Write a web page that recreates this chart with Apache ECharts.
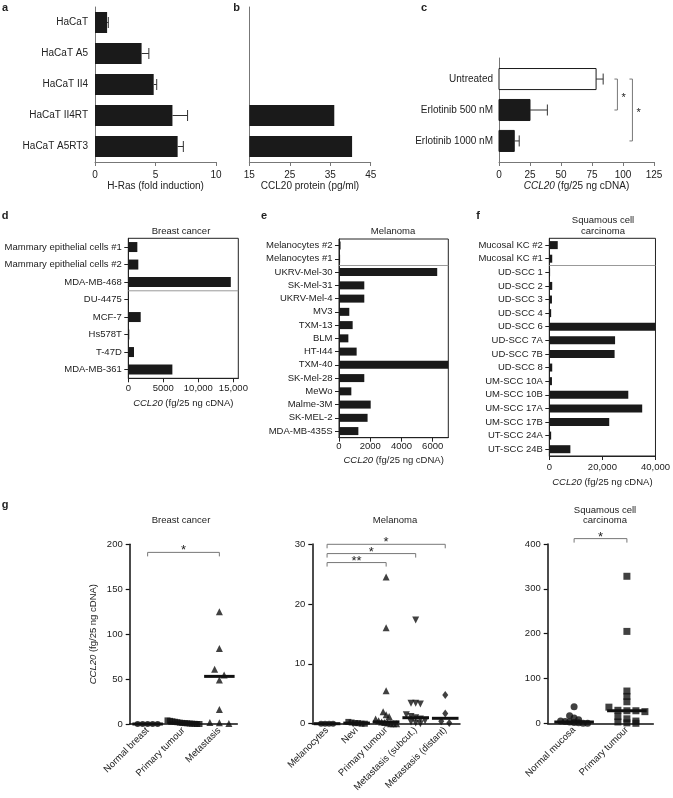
<!DOCTYPE html>
<html>
<head>
<meta charset="utf-8">
<script src="https://cdn.jsdelivr.net/npm/echarts/dist/echarts.min.js"></script>
<style>
html,body{margin:0;padding:0;background:#fff;}
#chart{width:673px;height:798px;}
</style>
</head>
<body>
<div id="chart"></div>
<script>
// ---------------- data ----------------
const aCats = ['HaCaT', 'HaCaT A5', 'HaCaT II4', 'HaCaT II4RT', 'HaCaT A5RT3'];
const aRas = [1.0, 3.85, 4.85, 6.4, 6.83];
const aRasErr = [0.1, 0.6, 0.25, 1.25, 0.47];
const bProtein = [null, null, null, 36.0, 40.4];
const cCats = ['Untreated', 'Erlotinib 500 nM', 'Erlotinib 1000 nM'];
const cVals = [78.3, 25, 12.3];
const cErr = [5.7, 14, 4];
const cStars = ['*', '*'];

const dCats = ['Mammary epithelial cells #1', 'Mammary epithelial cells #2', 'MDA-MB-468', 'DU-4475', 'MCF-7', 'Hs578T', 'T-47D', 'MDA-MB-361'];
const dVals = [1290, 1430, 14630, 100, 1770, 140, 810, 6290];
const eCats = ['Melanocytes #2', 'Melanocytes #1', 'UKRV-Mel-30', 'SK-Mel-31', 'UKRV-Mel-4', 'MV3', 'TXM-13', 'BLM', 'HT-I44', 'TXM-40', 'SK-Mel-28', 'MeWo', 'Malme-3M', 'SK-MEL-2', 'MDA-MB-435S'];
const eVals = [100, 70, 6290, 1620, 1620, 660, 875, 600, 1130, 7000, 1620, 790, 2030, 1830, 1240];
const fCats = ['Mucosal KC #2', 'Mucosal KC #1', 'UD-SCC 1', 'UD-SCC 2', 'UD-SCC 3', 'UD-SCC 4', 'UD-SCC 6', 'UD-SCC 7A', 'UD-SCC 7B', 'UD-SCC 8', 'UM-SCC 10A', 'UM-SCC 10B', 'UM-SCC 17A', 'UM-SCC 17B', 'UT-SCC 24A', 'UT-SCC 24B'];
const fVals = [3180, 1100, 300, 1100, 1000, 700, 40000, 24780, 24600, 1100, 1000, 29760, 35000, 22580, 700, 7940];

const g1Cats = ['Normal breast', 'Primary tumour', 'Metastasis'];
const g1Normal = [0, 0, 0, 0, 0];
const g1Primary = [0.5, 1, 0, 2, 0.3, 3, 1.5, 0, 2.5, 0.8, 4, 0.2, 1.2, 3.5];
const g1Meta = [125, 84, 61, 54.5, 49, 16, 1.8, 1.5, 0.5];
const g1Medians = [0, 1, 53];
const g1Brackets = [[0, 191, 2]];
const g1Stars = ['*'];

const g2Cats = ['Melanocytes', 'Nevi', 'Primary tumour', 'Metastasis (subcut.)', 'Metastasis (distant)'];
const g2Melano = [0, 0, 0, 0];
const g2Nevi = [0.3, 0.2, 0.1, 0.1, 0, 0];
const g2Primary = [24.5, 16, 5.5, 2, 1.5, 1.2, 0.8, 0.5, 0.3, 0.2, 0.1, 0, 0, 0];
const g2Subcut = [17.3, 3.4, 3.4, 3.3, 1.5, 1.2, 1.0, 0.8, 0.5, 0.3, 0.1, 0];
const g2Distant = [4.8, 1.7, 0.4, 0.1];
const g2Medians = [0, 0.1, 0.3, 1.0, 0.9];
const g2Brackets = [[0, 26.9, 2], [0, 28.4, 3], [0, 29.95, 4]];
const g2Stars = ['**', '*', '*'];

const g3Cats = ['Normal mucosa', 'Primary tumour'];
const g3Normal = [37, 17, 12, 8, 5, 4, 3, 2, 1, 0, 0];
const g3Primary = [328, 205, 72, 60, 48, 36, 29, 28, 28, 26, 15, 10, 5, 3, 1, 0];
const g3Medians = [3, 28];
const g3Brackets = [[0, 412, 1]];
const g3Stars = ['*'];

// ---------------- helpers ----------------
const FONT = '"Liberation Sans", Arial, Helvetica, sans-serif';
const TXT = '#222';
const BLK = '#1a1a1a';

function comma(v) {
  return v >= 10000 ? String(v).replace(/\B(?=(\d{3})+(?!\d))/g, ',') : String(v);
}
function nameStyle(size) {
  return { fontSize: size, color: TXT, fontFamily: FONT,
    rich: { i: { fontStyle: 'italic', fontSize: size, color: TXT, fontFamily: FONT } } };
}
const CCL20 = '{i|CCL20} (fg/25 ng cDNA)';

// beeswarm-like row layout: points close in value are spread symmetrically
function swarm(vals, pxPerUnit, binPx, step, maxW) {
  const order = vals.map((v, i) => i).sort((a, b) => vals[b] - vals[a]);
  const off = new Array(vals.length).fill(0);
  let g = [];
  const flush = () => {
    const k = g.length;
    const s = k > 1 ? Math.min(step, maxW / (k - 1)) : 0;
    g.forEach((id, j) => { off[id] = (j - (k - 1) / 2) * s; });
    g = [];
  };
  order.forEach(id => {
    if (g.length && (vals[g[0]] - vals[id]) * pxPerUnit >= binPx) flush();
    g.push(id);
  });
  flush();
  return off;
}

function txt(x, y, text, size, bold, align) {
  const al = align || 'center';
  return { type: 'text', x: x, y: y, silent: true,
    style: { text: text, fontSize: size, fontWeight: bold ? 'bold' : 'normal', fontFamily: FONT, fill: TXT,
      align: al, verticalAlign: 'middle', textAlign: al, textVerticalAlign: 'middle' } };
}

// ---------------- layout ----------------
const boxed = { show: true, borderColor: '#222', borderWidth: 1, backgroundColor: 'transparent' };
const GRIDS = [
  { left: 95, top: 7, width: 121, height: 155 },                 // a
  { left: 249.3, top: 7, width: 121.4, height: 155 },            // b
  { left: 499, top: 58, width: 155, height: 104 },               // c
  Object.assign({ left: 128.3, top: 238.3, width: 110, height: 140 }, boxed),     // d
  Object.assign({ left: 339, top: 239, width: 109.3, height: 198.7 }, boxed),     // e
  Object.assign({ left: 549.3, top: 238.3, width: 109.4, height: 217.7 }, boxed), // f
  { left: 129.7, top: 544.3, width: 107.6, height: 179.7 },      // g1
  { left: 312.3, top: 544, width: 147.7, height: 179.7 },        // g2
  { left: 547.7, top: 544, width: 105.6, height: 179.3 }         // g3
];

function valX(gi, min, max, interval, name, o) {
  return {
    gridIndex: gi, type: 'value', min: min, max: max, interval: interval,
    axisLine: { show: true, onZero: false, lineStyle: { color: o.line, width: 1 } },
    axisTick: { show: true, length: 4, lineStyle: { color: o.line } },
    splitLine: { show: false },
    axisLabel: { fontSize: o.fs, color: TXT, fontFamily: FONT, margin: o.margin,
      formatter: o.fmt || (v => String(v)), showMaxLabel: o.showMax !== false },
    name: name, nameLocation: 'middle', nameGap: o.gap, nameTextStyle: nameStyle(o.fs)
  };
}
function catY(gi, data, o) {
  return {
    gridIndex: gi, type: 'category', data: data, inverse: true,
    axisLine: { show: true, lineStyle: { color: o.line, width: 1 } },
    axisTick: { show: !!o.tick, length: 4, alignWithLabel: true, lineStyle: { color: o.line } },
    axisLabel: { show: o.label !== false, fontSize: o.fs, color: TXT, fontFamily: FONT, margin: o.margin }
  };
}
function gX(gi, data) {
  return {
    gridIndex: gi, type: 'category', data: data,
    axisLine: { show: true, lineStyle: { color: '#111', width: 1.5 } },
    axisTick: { show: false },
    axisLabel: { rotate: 45, fontSize: 9.5, color: TXT, fontFamily: FONT, margin: 5, interval: 0 }
  };
}
function gY(gi, max, interval, name) {
  return {
    gridIndex: gi, type: 'value', min: 0, max: max, interval: interval,
    axisLine: { show: true, onZero: false, lineStyle: { color: '#111', width: 1.5 } },
    axisTick: { show: true, length: 4, lineStyle: { color: '#111', width: 1.2 } },
    splitLine: { show: false },
    axisLabel: { fontSize: 9.5, color: TXT, fontFamily: FONT, margin: 7 },
    name: name || '', nameLocation: 'middle', nameGap: 31, nameTextStyle: nameStyle(9.5)
  };
}

// ---------------- render functions ----------------
function errH(params, api) {
  const v = api.value(0), i = api.value(1), e = api.value(2);
  const p1 = api.coord([v, i]), p2 = api.coord([v + e, i]);
  const cap = 5.5;
  return { type: 'group', children: [
    { type: 'line', shape: { x1: p1[0], y1: p1[1], x2: p2[0], y2: p2[1] }, style: { stroke: '#333', lineWidth: 1 } },
    { type: 'line', shape: { x1: p2[0], y1: p2[1] - cap, x2: p2[0], y2: p2[1] + cap }, style: { stroke: '#333', lineWidth: 1 } }
  ] };
}
function cBar(params, api) {
  const v = api.value(0), i = api.value(1);
  const p0 = api.coord([0, i]), p1 = api.coord([v, i]);
  const h = Math.abs(api.size([0, 0.68])[1]);
  return { type: 'group', children: [
    { type: 'rect', shape: { x: p0[0], y: p1[1] - h / 2, width: p1[0] - p0[0], height: h },
      style: { fill: i === 0 ? '#fff' : BLK, stroke: BLK, lineWidth: 1 } },
    { type: 'text', x: p0[0] - 6, y: p1[1],
      style: { text: cCats[i], fontSize: 10, fontFamily: FONT, fill: TXT,
        align: 'right', verticalAlign: 'middle', textAlign: 'right', textVerticalAlign: 'middle' } }
  ] };
}
function bracketV(params, api) {
  const x = api.value(0), s = api.value(1), e = api.value(2);
  const p1 = api.coord([x, s]), p2 = api.coord([x, e]);
  const t = 3;
  return { type: 'group', children: [
    { type: 'polyline', shape: { points: [[p1[0] - t, p1[1]], [p1[0], p1[1]], [p2[0], p2[1]], [p2[0] - t, p2[1]]] },
      style: { stroke: '#777', lineWidth: 1, fill: null } },
    { type: 'text', x: p1[0] + 4, y: (p1[1] + p2[1]) / 2 + 3,
      style: { text: cStars[params.dataIndex], fontSize: 11, fontFamily: FONT, fill: TXT,
        align: 'left', verticalAlign: 'middle', textAlign: 'left', textVerticalAlign: 'middle' } }
  ] };
}
function sepR(params, api) {
  const i = api.value(1);
  const p = api.coord([0, i]);
  const h = api.size([0, 1])[1];
  const cs = params.coordSys;
  const y = p[1] + h / 2;
  return { type: 'line', shape: { x1: cs.x, y1: y, x2: cs.x + cs.width, y2: y }, style: { stroke: '#999', lineWidth: 1 } };
}
function bracketH(stars) {
  return function (params, api) {
    const s = api.value(0), y = api.value(1), e = api.value(2);
    const p1 = api.coord([s, y]), p2 = api.coord([e, y]);
    const t = 4;
    return { type: 'group', children: [
      { type: 'polyline', shape: { points: [[p1[0], p1[1] + t], [p1[0], p1[1]], [p2[0], p2[1]], [p2[0], p2[1] + t]] },
        style: { stroke: '#777', lineWidth: 1, fill: null } },
      { type: 'text', x: (p1[0] + p2[0]) / 2, y: p1[1] - 1.5,
        style: { text: stars[params.dataIndex], fontSize: 13, fontFamily: FONT, fill: TXT,
          align: 'center', verticalAlign: 'middle', textAlign: 'center', textVerticalAlign: 'middle' } }
    ] };
  };
}
function medianR(frac) {
  return function (params, api) {
    const c = api.value(0), m = api.value(1);
    const p = api.coord([c, m]);
    const w = api.size([1, 0])[0] * frac;
    return { type: 'line', z2: 10, shape: { x1: p[0] - w / 2, y1: p[1], x2: p[0] + w / 2, y2: p[1] },
      style: { stroke: '#111', lineWidth: 3 } };
  };
}
function scatter(gi, cat, vals, ppu, binPx, step, maxW, symbol, size, rot) {
  const off = swarm(vals, ppu, binPx, step, maxW);
  return {
    type: 'scatter', xAxisIndex: gi, yAxisIndex: gi, symbol: symbol, symbolSize: size,
    symbolRotate: rot || 0, itemStyle: { color: '#111' }, z: 4, silent: true,
    data: vals.map((v, k) => ({ value: [cat, v], symbolOffset: [off[k], 0] }))
  };
}

const ppu1 = GRIDS[6].height / 200, ppu2 = GRIDS[7].height / 30, ppu3 = GRIDS[8].height / 400;

// ---------------- option ----------------
const option = {
  animation: false,
  backgroundColor: '#fff',
  textStyle: { fontFamily: FONT },
  grid: GRIDS,
  xAxis: [
    valX(0, 0, 10, 5, 'H-Ras (fold induction)', { line: '#777', fs: 10, margin: 8, gap: 19 }),
    valX(1, 15, 45, 10, 'CCL20 protein (pg/ml)', { line: '#777', fs: 10, margin: 8, gap: 19 }),
    valX(2, 0, 125, 25, CCL20, { line: '#777', fs: 10, margin: 8, gap: 19 }),
    valX(3, 0, 15700, 5000, CCL20, { line: '#222', fs: 9.5, margin: 5, gap: 20, fmt: comma, showMax: false }),
    valX(4, 0, 7000, 2000, CCL20, { line: '#222', fs: 9.5, margin: 4, gap: 18, fmt: comma, showMax: false }),
    valX(5, 0, 40000, 20000, CCL20, { line: '#222', fs: 9.5, margin: 6.5, gap: 21, fmt: comma }),
    gX(6, g1Cats), gX(7, g2Cats), gX(8, g3Cats)
  ],
  yAxis: [
    catY(0, aCats, { line: '#777', fs: 10, margin: 7 }),
    catY(1, aCats, { line: '#777', fs: 10, margin: 7, label: false }),
    { gridIndex: 2, type: 'value', inverse: true, min: -0.68, max: 2.68,
      axisLine: { show: true, onZero: false, lineStyle: { color: '#777', width: 1 } },
      axisTick: { show: false }, axisLabel: { show: false }, splitLine: { show: false } },
    catY(3, dCats, { line: '#222', fs: 9.5, margin: 6.5, tick: true }),
    catY(4, eCats, { line: '#222', fs: 9.5, margin: 6.5, tick: true }),
    catY(5, fCats, { line: '#222', fs: 9.5, margin: 6.5, tick: true }),
    gY(6, 200, 50, CCL20), gY(7, 30, 10), gY(8, 400, 100)
  ],
  series: [
    // a
    { type: 'bar', xAxisIndex: 0, yAxisIndex: 0, data: aRas, barWidth: 21, itemStyle: { color: BLK }, silent: true },
    { type: 'custom', xAxisIndex: 0, yAxisIndex: 0, renderItem: errH, z: 5, silent: true,
      data: aRas.map((v, i) => [v, i, aRasErr[i]]) },
    // b
    { type: 'bar', xAxisIndex: 1, yAxisIndex: 1, data: bProtein.map(v => v == null ? '-' : v), barWidth: 21,
      itemStyle: { color: BLK }, silent: true },
    // c
    { type: 'custom', xAxisIndex: 2, yAxisIndex: 2, renderItem: cBar, silent: true,
      data: cVals.map((v, i) => [v, i]) },
    { type: 'custom', xAxisIndex: 2, yAxisIndex: 2, renderItem: errH, z: 5, silent: true,
      data: cVals.map((v, i) => [v, i, cErr[i]]) },
    { type: 'custom', xAxisIndex: 2, yAxisIndex: 2, renderItem: bracketV, silent: true,
      data: [[95.5, 0, 1], [107.6, 0, 2]] },
    // d, e, f
    { type: 'bar', xAxisIndex: 3, yAxisIndex: 3, data: dVals, barWidth: 10, itemStyle: { color: BLK }, silent: true },
    { type: 'custom', xAxisIndex: 3, yAxisIndex: 3, renderItem: sepR, data: [[0, 2]], silent: true },
    { type: 'bar', xAxisIndex: 4, yAxisIndex: 4, data: eVals, barWidth: 8, itemStyle: { color: BLK }, silent: true },
    { type: 'custom', xAxisIndex: 4, yAxisIndex: 4, renderItem: sepR, data: [[0, 1]], silent: true },
    { type: 'bar', xAxisIndex: 5, yAxisIndex: 5, data: fVals, barWidth: 8, itemStyle: { color: BLK }, silent: true },
    { type: 'custom', xAxisIndex: 5, yAxisIndex: 5, renderItem: sepR, data: [[0, 1]], silent: true },
    // g1 breast
    scatter(6, 0, g1Normal, ppu1, 7, 5, 26, 'circle', 6),
    scatter(6, 1, g1Primary, ppu1, 7, 2.5, 32, 'rect', 6),
    scatter(6, 2, g1Meta, ppu1, 7, 9.5, 30, 'triangle', 7),
    { type: 'custom', xAxisIndex: 6, yAxisIndex: 6, renderItem: medianR(0.85), z: 6, silent: true,
      data: g1Medians.map((m, i) => [i, m]) },
    { type: 'custom', xAxisIndex: 6, yAxisIndex: 6, renderItem: bracketH(g1Stars), silent: true, data: g1Brackets },
    // g2 melanoma
    scatter(7, 0, g2Melano, ppu2, 6, 4, 20, 'circle', 6),
    scatter(7, 1, g2Nevi, ppu2, 6, 3.3, 20, 'rect', 6),
    scatter(7, 2, g2Primary, ppu2, 6, 3, 22, 'triangle', 7),
    scatter(7, 3, g2Subcut, ppu2, 6, 4.7, 22, 'triangle', 7, 180),
    scatter(7, 4, g2Distant, ppu2, 6, 8, 20, 'diamond', [6, 8]),
    { type: 'custom', xAxisIndex: 7, yAxisIndex: 7, renderItem: medianR(0.9), z: 6, silent: true,
      data: g2Medians.map((m, i) => [i, m]) },
    { type: 'custom', xAxisIndex: 7, yAxisIndex: 7, renderItem: bracketH(g2Stars), silent: true, data: g2Brackets },
    // g3 SCC
    scatter(8, 0, g3Normal, ppu3, 5, 4.5, 28, 'circle', 7),
    scatter(8, 1, g3Primary, ppu3, 5, 9, 38, 'rect', 7),
    { type: 'custom', xAxisIndex: 8, yAxisIndex: 8, renderItem: medianR(0.75), z: 6, silent: true,
      data: g3Medians.map((m, i) => [i, m]) },
    { type: 'custom', xAxisIndex: 8, yAxisIndex: 8, renderItem: bracketH(g3Stars), silent: true, data: g3Brackets }
  ],
  graphic: { elements: [
    txt(5, 8, 'a', 11, true), txt(236.5, 8, 'b', 11, true), txt(424, 8, 'c', 11, true),
    txt(5, 216, 'd', 11, true), txt(264, 216, 'e', 11, true), txt(478, 216, 'f', 11, true),
    txt(5, 505, 'g', 11, true),
    txt(181, 231, 'Breast cancer', 9.5), txt(393, 231, 'Melanoma', 9.5),
    txt(603, 220, 'Squamous cell', 9.5), txt(603, 231, 'carcinoma', 9.5),
    txt(181, 520.7, 'Breast cancer', 9.5), txt(395, 520.7, 'Melanoma', 9.5),
    txt(605, 510, 'Squamous cell', 9.5), txt(605, 520.7, 'carcinoma', 9.5)
  ] }
};

const chart = echarts.init(document.getElementById('chart'), null, { renderer: 'canvas' });
chart.setOption(option);
</script>
</body>
</html>
